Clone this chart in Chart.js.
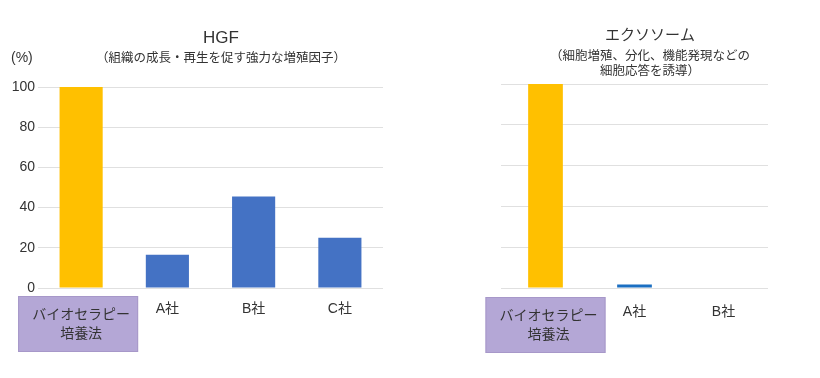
<!DOCTYPE html>
<html>
<head>
<meta charset="utf-8">
<script src="https://cdn.jsdelivr.net/npm/chart.js@4/dist/chart.umd.min.js"></script>
<style>
  html, body { margin: 0; padding: 0; background: #fff; }
  #wrap { position: relative; width: 820px; height: 378px; overflow: hidden; }
  canvas { position: absolute; top: 0; }
  #c1 { left: 0; }
  #c2 { left: 420px; }
</style>
</head>
<body>
<div id="wrap">
  <canvas id="c1" width="420" height="378"></canvas>
  <canvas id="c2" width="400" height="378"></canvas>
</div>
<script>
// ---- data ----
const hgfCategories = [["バイオセラピー", "培養法"], "A社", "B社", "C社"];
const hgfValues = [100, 16.5, 45.5, 25];
const hgfColors = ["#FFC000", "#4472C4", "#4472C4", "#4472C4"];
const hgfTitle = "HGF";
const hgfSubtitle = ["（組織の成長・再生を促す強力な増殖因子）"];

const exoCategories = [["バイオセラピー", "培養法"], "A社", "B社"];
const exoValues = [100, 1.7, 0];
const exoColors = ["#FFC000", "#1B6FC2", "#4472C4"];
const exoTitle = "エクソソーム";
const exoSubtitle = ["（細胞増殖、分化、機能発現などの", "細胞応答を誘導）"];

const yTicks = [0, 20, 40, 60, 80, 100];
const unitLabel = "(%)";

const FONT = "'Liberation Sans', Arial, 'Noto Sans CJK JP', sans-serif";
const TEXT = "#333333";
const GRID = "#e0e0e0";

function titlePlugin(title, titleSize, subtitle, cx, ty, sy, showUnit) {
  return {
    id: 'customTitles',
    afterDraw(chart) {
      const ctx = chart.ctx;
      ctx.save();
      ctx.fillStyle = TEXT;
      ctx.textAlign = 'center';
      ctx.textBaseline = 'middle';
      ctx.font = titleSize + "px " + FONT;
      ctx.fillText(title, cx, ty);
      ctx.font = "12.5px " + FONT;
      subtitle.forEach((s, i) => ctx.fillText(s, cx, sy + i * 15));
      if (showUnit) {
        ctx.font = "14px " + FONT;
        ctx.textAlign = 'left';
        ctx.fillText(unitLabel, 11, 58);
      }
      ctx.restore();
    }
  };
}

function boxPlugin(cats, yTop, dx) {
  return {
    id: 'labelBox',
    afterDraw(chart) {
      const ctx = chart.ctx;
      const xs = chart.scales.x;
      const x = xs.getPixelForValue(0);
      const w = 120, h = 56;
      ctx.save();
      ctx.fillStyle = "#B4A7D6";
      ctx.strokeStyle = "#A798C9";
      ctx.lineWidth = 1;
      ctx.fillRect(x - w / 2 + dx, yTop, w, h);
      ctx.strokeRect(x - w / 2 + dx + 0.5, yTop + 0.5, w - 1, h - 1);
      ctx.fillStyle = TEXT;
      ctx.font = "14px " + FONT;
      ctx.textAlign = 'center';
      ctx.textBaseline = 'middle';
      const lines = cats[0];
      lines.forEach((s, i) => ctx.fillText(s, x + dx + 3, yTop + 19 + i * 19));
      ctx.restore();
    }
  };
}

function makeChart(id, cats, vals, colors, barPct, yWidth, showYLabels, pad, xPad, plugins) {
  return new Chart(document.getElementById(id), {
    type: 'bar',
    data: {
      labels: cats,
      datasets: [{
        data: vals,
        backgroundColor: colors,
        borderWidth: 0,
        barPercentage: barPct,
        categoryPercentage: 1.0
      }]
    },
    options: {
      responsive: false,
      animation: false,
      devicePixelRatio: 1,
      layout: { padding: pad },
      plugins: { legend: { display: false }, tooltip: { enabled: false }, title: { display: false } },
      scales: {
        x: {
          grid: { display: false, drawTicks: false },
          border: { display: false },
          ticks: {
            padding: xPad,
            color: ctx => ctx.index === 0 ? 'rgba(0,0,0,0)' : TEXT,
            font: { family: FONT, size: 14 },
            maxRotation: 0, autoSkip: false
          },
          afterFit: s => { s.height = 90; }
        },
        y: {
          min: 0, max: 100,
          afterBuildTicks: s => { s.ticks = yTicks.map(v => ({ value: v })); },
          grid: { color: GRID, lineWidth: 1, drawTicks: false },
          border: { display: false },
          ticks: {
            display: showYLabels,
            padding: 3,
            color: TEXT,
            font: { family: FONT, size: 14 }
          },
          afterFit: s => { s.width = yWidth; }
        }
      }
    },
    plugins: plugins
  });
}

// left chart: chartArea approx x 38..383, y 87..288
makeChart('c1', hgfCategories, hgfValues, hgfColors, 0.5, 38, true,
  { left: 0, right: 420 - 383, top: 87, bottom: 0 }, 13,
  [titlePlugin(hgfTitle, 17, hgfSubtitle, 221, 38, 59, true), boxPlugin(hgfCategories, 296, -3)]);

// right chart: chartArea approx x 501..768 (canvas offset 420), y 84..289
makeChart('c2', exoCategories, exoValues, exoColors, 0.39, 81, false,
  { left: 0, right: 400 - 348, top: 84, bottom: 0 }, 16,
  [titlePlugin(exoTitle, 15, exoSubtitle, 650 - 420, 36, 57, false), boxPlugin(exoCategories, 297, 0)]);
</script>
</body>
</html>
